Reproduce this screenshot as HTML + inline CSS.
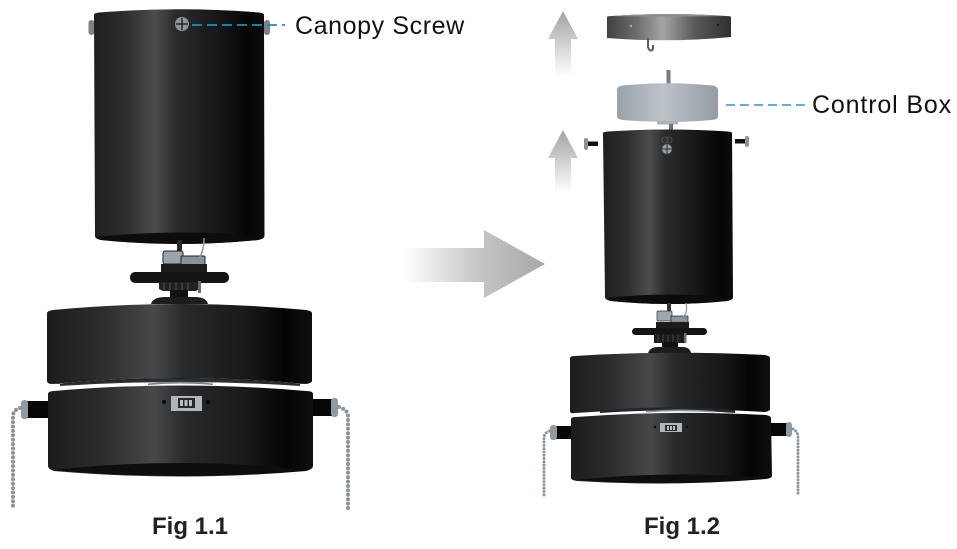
<!DOCTYPE html>
<html><head><meta charset="utf-8"><style>
html,body{margin:0;padding:0;background:#fff}
svg{display:block}
.l{font-family:"Liberation Sans",sans-serif;font-size:25px;fill:#111}
.f{font-family:"Liberation Sans",sans-serif;font-size:24px;font-weight:bold;fill:#222}
</style></head><body>
<svg width="957" height="549" viewBox="0 0 957 549" xmlns="http://www.w3.org/2000/svg">
<defs>
<linearGradient id="b"><stop offset="0" stop-color="#1d1e1f"/><stop offset=".18" stop-color="#2c2d2e"/><stop offset=".36" stop-color="#4b4c4d"/><stop offset=".48" stop-color="#2a2b2c"/><stop offset=".7" stop-color="#17191a"/><stop offset=".9" stop-color="#050606"/><stop offset="1" stop-color="#0c0d0d"/></linearGradient>
<linearGradient id="d"><stop offset="0" stop-color="#1b1c1d"/><stop offset=".2" stop-color="#2b2c2d"/><stop offset=".4" stop-color="#47484a"/><stop offset=".52" stop-color="#28292a"/><stop offset=".75" stop-color="#17191a"/><stop offset=".9" stop-color="#040505"/><stop offset="1" stop-color="#0e0f0f"/></linearGradient>
<linearGradient id="g"><stop offset="0" stop-color="#3f403f"/><stop offset=".25" stop-color="#6f716e"/><stop offset=".45" stop-color="#a3a5a2"/><stop offset=".7" stop-color="#5b5c5a"/><stop offset="1" stop-color="#2f2f2e"/></linearGradient>
<linearGradient id="c"><stop offset="0" stop-color="#9aa2aa"/><stop offset=".45" stop-color="#bcc3c9"/><stop offset=".7" stop-color="#aab1b8"/><stop offset="1" stop-color="#959ca3"/></linearGradient>
<linearGradient id="ar"><stop offset="0" stop-color="#fff"/><stop offset=".55" stop-color="#c4c4c4"/><stop offset="1" stop-color="#a8a8a8"/></linearGradient>
<linearGradient id="au" x1="0" y1="1" x2="0" y2="0"><stop offset="0" stop-color="#fff"/><stop offset=".6" stop-color="#c8c8c8"/><stop offset="1" stop-color="#a2a2a2"/></linearGradient>
</defs>

<path d="M403 248H484V230L545 264L484 298V282H403Z" fill="url(#ar)"/>
<path d="M563 11L578 39H571V77H555V39H548Z" fill="url(#au)"/>
<path d="M563 130L578 158H571V193H555V158H548Z" fill="url(#au)"/>

<!-- FIG 1.1 canopy -->
<rect x="88.500" y="20" width="6" height="15" rx="3" fill="#7b8187"/>
<rect x="264" y="20" width="6" height="15" rx="3" fill="#7b8187"/>
<path d="M94 15Q94 13 99 12.500Q179 6 259 12.500Q264 13 264 15L264.500 236Q264.500 239 258 240Q179 248 101 240Q95 239 95 236Z" fill="url(#b)"/>
<path d="M96 237Q179 228 263 237Q262 239 258 240Q179 248 101 240Q97 239 96 237Z" fill="#0b0c0c"/>
<circle cx="182" cy="24" r="7" fill="#8c949a"/>
<path d="M182 18V30M176 24H188" stroke="#26292b" stroke-width="1.500"/>

<!-- hub 1 -->
<rect x="177" y="240" width="5" height="12" fill="#2a2a2a"/>
<rect x="163" y="251" width="20" height="13" rx="2" fill="#9ba4ad" stroke="#222"/>
<rect x="181" y="256" width="24" height="9" rx="1" fill="#88929b" stroke="#222"/>
<path d="M204 238Q204 252 198 260" fill="none" stroke="#8d969e" stroke-width="1.500"/>
<rect x="161" y="264" width="46" height="8" fill="#1c1c1c"/>
<rect x="130" y="272" width="99" height="11" rx="5" fill="#141414"/>
<path d="M159 282h40v7l-3 2h-33l-4-2z" fill="#222"/>
<path d="M164 283v7M170 283v7M176 283v7M182 283v7M188 283v7" stroke="#4a4a4a" stroke-width="1.200"/>
<rect x="198" y="281" width="3" height="12" fill="#666c70"/>
<rect x="170" y="290" width="18" height="8" fill="#111"/>
<path d="M151 304Q153 297 165 297H195Q206 297 208 304Z" fill="#1c1c1c"/>

<!-- base 1 -->
<path d="M48 389H312V394H48Z" fill="none"/>
<path d="M47 313Q47 311 53 310Q180 298 306 310Q312 311 312 313V381Q312 383 306 384Q180 372 53 384Q47 384 47 381Z" fill="url(#d)"/>
<path d="M53 384Q180 372 306 384Q180 380 53 384Z" fill="#1d1e1f"/>
<path d="M60 384Q180 374 300 384L300 386Q180 378 60 386Z" fill="#2c2f32"/>
<path d="M148 383.500Q180 380 213 383.500L213 385Q180 382 148 385Z" fill="#7a838a"/>
<path d="M48 394Q48 391 54 391Q180 380 306 391Q313 391 313 394L313 466Q313 469 306 471Q180 482 54 471Q48 469 48 466Z" fill="url(#d)"/>
<path d="M53 470Q180 456 308 470Q180 482 53 470Z" fill="#0d0e0e"/>
<rect x="171" y="396" width="31" height="15" fill="#b0b6bc"/>
<rect x="178" y="398" width="17" height="10" fill="#26282a"/>
<path d="M180 400h3v6h-3zM184.500 400h3v6h-3zM189 400h3v6h-3z" fill="#b8bdc2"/>
<circle cx="164" cy="402" r="2" fill="#0b0b0b"/><circle cx="208" cy="402" r="2" fill="#0b0b0b"/>
<!-- pulls 1 -->
<rect x="27" y="401" width="21" height="17" fill="#070707"/>
<rect x="21" y="400" width="7" height="19" rx="3" fill="#929aa1"/>
<rect x="313" y="399" width="19" height="17" fill="#070707"/>
<rect x="331" y="398" width="7" height="19" rx="3" fill="#929aa1"/>
<path d="M20 408Q13 410 13 416V509" fill="none" stroke="#8b939b" stroke-width="4" stroke-linecap="round" stroke-dasharray="0 4.400"/>
<path d="M339 407Q348 410 348 416V509" fill="none" stroke="#8b939b" stroke-width="4" stroke-linecap="round" stroke-dasharray="0 4.400"/>

<line x1="192" y1="25" x2="285" y2="25" stroke="#1f8ac4" stroke-width="1.800" stroke-dasharray="10 5"/>
<text class="l" x="295" y="34" letter-spacing=".6">Canopy Screw</text>
<text class="f" x="152" y="534">Fig 1.1</text>

<!-- FIG 1.2 top disc -->
<path d="M607 17Q607 16 612 16Q669 12 726 16Q731 16 731 17V37Q669 43 607 38Z" fill="url(#g)"/>
<path d="M612 16Q669 12 726 16Q669 17 612 16Z" fill="#8d8f8c"/>
<circle cx="631" cy="26" r="1.200" fill="#aaa"/><circle cx="718" cy="25" r="1.200" fill="#222"/>
<path d="M648 38V47Q650 53 653 49V45" fill="none" stroke="#5e5f5d" stroke-width="2"/>
<!-- control box -->
<rect x="666.500" y="70" width="4" height="14" fill="#777c80"/>
<path d="M617 90Q617 86 623 85.500Q668 81 712 85.500Q718 86 718 90V117Q718 119 712 120Q668 124 623 120Q617 119 617 117Z" fill="url(#c)"/>
<rect x="657" y="121" width="21" height="3.500" rx="1.500" fill="#aab1b7"/>
<rect x="669" y="124" width="4" height="7" fill="#6d7276"/>
<line x1="726" y1="105" x2="806" y2="105" stroke="#2a94c6" stroke-width="1.500" stroke-dasharray="9 5"/>
<text class="l" x="812" y="113" letter-spacing=".85">Control Box</text>

<!-- canopy 2 -->
<path d="M603 133Q603 132 608 131.500Q668 127.500 728 131.500Q732 132 732 133L733 297Q733 300 727 301Q668 307 611 301Q605 300 605 297Z" fill="url(#b)"/>
<path d="M606 298Q668 291 732 298Q730 300 727 301Q668 307 611 301Q607 300 606 298Z" fill="#0b0c0c"/>
<circle cx="667" cy="149" r="5" fill="#98a0a6"/>
<path d="M667 144V154M662 149H672" stroke="#2a2c2e" stroke-width="1"/>
<circle cx="665" cy="140" r="3" fill="none" stroke="#555" stroke-width=".8"/><circle cx="669" cy="140" r="3" fill="none" stroke="#555" stroke-width=".8"/>
<rect x="584" y="138" width="4" height="12" rx="2" fill="#8c9298"/>
<rect x="588" y="141.500" width="10" height="4.500" fill="#111"/>
<rect x="735" y="139" width="10" height="4.500" fill="#111"/>
<rect x="745" y="136" width="4" height="11" rx="2" fill="#8c9298"/>

<!-- hub 2 -->
<rect x="667" y="303" width="4" height="9" fill="#333"/>
<rect x="657" y="311" width="15" height="10" rx="1" fill="#a0a8af" stroke="#333" stroke-width=".7"/>
<rect x="671" y="316" width="17" height="7" fill="#8b949c" stroke="#222" stroke-width=".7"/>
<path d="M686 303Q688 313 683 317" fill="none" stroke="#8d969e" stroke-width="1.200"/>
<rect x="656" y="322" width="33" height="6" fill="#1c1c1c"/>
<rect x="632" y="328" width="75" height="7" rx="3.500" fill="#141414"/>
<rect x="654" y="334" width="31" height="9" fill="#1c1c1c"/>
<path d="M658 335v7M663 335v7M668 335v7M673 335v7M678 335v7" stroke="#444" stroke-width="1"/>
<rect x="684" y="333" width="2.500" height="10" fill="#666c70"/>
<rect x="662" y="342" width="16" height="7" fill="#111"/>
<path d="M648 353Q650 347 658 347H682Q690 347 691 353Z" fill="#1c1c1c"/>

<!-- base 2 -->
<path d="M570 358Q570 356 575 356Q670 350 765 355Q770 356 770 358V409Q770 411 765 412Q670 406 575 413Q570 414 570 411Z" fill="url(#d)"/>
<path d="M600 410Q670 405 735 410L735 413Q670 408 600 413Z" fill="#23262a"/>
<path d="M646 411Q680 408 715 411L715 412.500Q680 410 646 412.500Z" fill="#8f969d"/>
<path d="M571 419Q571 417 576 417Q670 410 766 415Q771 416 771 418L772 476Q772 478 766 479Q670 487 577 481Q571 480 571 478Z" fill="url(#d)"/>
<path d="M576 480Q670 470 767 478Q670 487 576 480Z" fill="#0d0e0e"/>
<rect x="660" y="423" width="22" height="9" fill="#b0b6bc"/>
<rect x="665" y="425" width="12" height="6" fill="#2a2c2e"/>
<path d="M667 426h2v4h-2zM670 426h2v4h-2zM673 426h2v4h-2z" fill="#b8bdc2"/>
<circle cx="655" cy="427" r="1.300" fill="#0b0b0b"/><circle cx="687" cy="427" r="1.300" fill="#0b0b0b"/>
<!-- pulls 2 -->
<rect x="556" y="426" width="15" height="13" fill="#070707"/>
<rect x="550" y="425" width="7" height="15" rx="3" fill="#929aa1"/>
<rect x="771" y="423" width="16" height="13" fill="#070707"/>
<rect x="786" y="422" width="6" height="15" rx="3" fill="#929aa1"/>
<path d="M549 431Q544 433 544 438V495" fill="none" stroke="#8b939b" stroke-width="3" stroke-linecap="round" stroke-dasharray="0 3.300"/>
<path d="M793 429Q798 432 798 437V495" fill="none" stroke="#8b939b" stroke-width="3" stroke-linecap="round" stroke-dasharray="0 3.300"/>

<text class="f" x="644" y="534">Fig 1.2</text>
</svg>
</body></html>
